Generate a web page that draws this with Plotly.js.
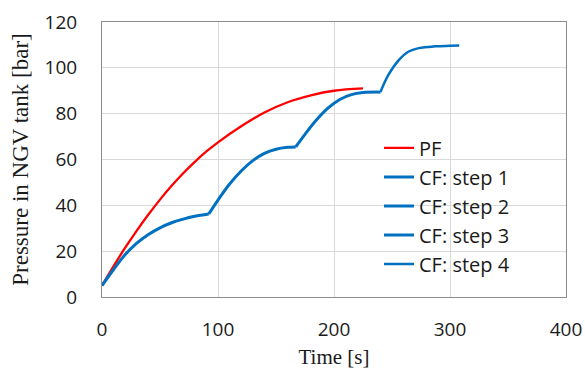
<!DOCTYPE html>
<html>
<head>
<meta charset="utf-8">
<script src="https://cdn.plot.ly/plotly-3.0.1.min.js"></script>
<style>html,body{margin:0;padding:0;background:#fff;}#chart{width:585px;height:369px;}</style>
</head>
<body>
<div id="chart"></div>
<script>
// PF (red)
const pfTime = [0, 10, 20, 30, 40, 50, 60, 70, 80, 90, 100, 120, 140, 160, 180, 200, 225];
const pfPressure = [5, 13.5, 21.5, 29, 36, 42.5, 48.5, 54, 59, 63.5, 67.5, 74.5, 80.5, 85, 88, 90, 91];
// CF steps (blue)
const cf1Time = [0, 10, 20, 30, 40, 50, 60, 70, 80, 92];
const cf1Pressure = [5, 12, 18.5, 23.5, 27.3, 30.2, 32.4, 34, 35.2, 36.2];
const cf2Time = [92, 100, 110, 120, 130, 140, 150, 160, 167];
const cf2Pressure = [36.2, 42.3, 49.3, 55, 59.5, 62.7, 64.5, 65.3, 65.5];
const cf3Time = [167, 175, 185, 195, 205, 215, 225, 240];
const cf3Pressure = [65.5, 71, 77.3, 82.5, 86.2, 88.3, 89.2, 89.4];
const cf4Time = [240, 247, 256, 264, 273, 287, 300, 308];
const cf4Pressure = [89.4, 97, 103.5, 107, 108.6, 109.4, 109.6, 109.7];
const seriesNames = ["PF", "CF: step 1", "CF: step 2", "CF: step 3", "CF: step 4"];
const xTicks = [0, 100, 200, 300, 400];
const yTicks = [0, 20, 40, 60, 80, 100, 120];

const blue = "#0070C0";
function tr(x, y, name, color, width, g) {
  return {x: x, y: y, name: name, type: "scatter", mode: "lines",
    line: {color: color, width: width, shape: "spline", smoothing: 1},
    legendgroup: g};
}
const data = [
  tr(pfTime, pfPressure, seriesNames[0], "#FF0000", 2.3, "a"),
  tr(cf1Time, cf1Pressure, seriesNames[1], blue, 3, "b"),
  tr(cf2Time, cf2Pressure, seriesNames[2], blue, 3, "c"),
  tr(cf3Time, cf3Pressure, seriesNames[3], blue, 3, "d"),
  tr(cf4Time, cf4Pressure, seriesNames[4], blue, 2.5, "e")
];
const tickFont = {family: "Open Sans, sans-serif", size: 19, color: "#1a1a1a"};
const xTitleFont = {family: "Liberation Serif, serif", size: 21, color: "#1a1a1a"};
const yTitleFont = {family: "Liberation Serif, serif", size: 23, color: "#1a1a1a"};
const layout = {
  width: 585, height: 369,
  margin: {l: 102, r: 19, t: 22, b: 72},
  paper_bgcolor: "#fff", plot_bgcolor: "#fff",
  showlegend: true,
  legend: {x: 0.597, y: 0.613, xanchor: "left", yanchor: "top",
    bgcolor: "rgba(0,0,0,0)", font: {family: "Open Sans, sans-serif", size: 20, color: "#1a1a1a"},
    traceorder: "grouped", tracegroupgap: 0},
  xaxis: {range: [0, 400], tickvals: xTicks, ticktext: xTicks.map(String),
    showgrid: true, gridcolor: "#d9d9d9", zeroline: false,
    showline: true, linecolor: "#8c8c8c", mirror: true, linewidth: 1,
    ticks: "", ticklabelstandoff: 15, tickfont: tickFont,
    title: {text: "Time [s]", font: xTitleFont, standoff: 8}},
  yaxis: {range: [0, 120], tickvals: yTicks, ticktext: yTicks.map(String),
    showgrid: true, gridcolor: "#d9d9d9", zeroline: false,
    showline: true, linecolor: "#8c8c8c", mirror: true, linewidth: 1,
    ticks: "", ticklabelstandoff: 20, tickfont: tickFont,
    title: {text: "Pressure in NGV tank [bar]", font: yTitleFont, standoff: 9}},
  shapes: [{type: "rect", xref: "paper", yref: "paper", x0: 0.52, x1: 0.976, y0: 0.072, y1: 0.6,
    fillcolor: "#fff", line: {width: 0}, layer: "between"}]
};
Plotly.newPlot("chart", data, layout, {staticPlot: true});
</script>
</body>
</html>
